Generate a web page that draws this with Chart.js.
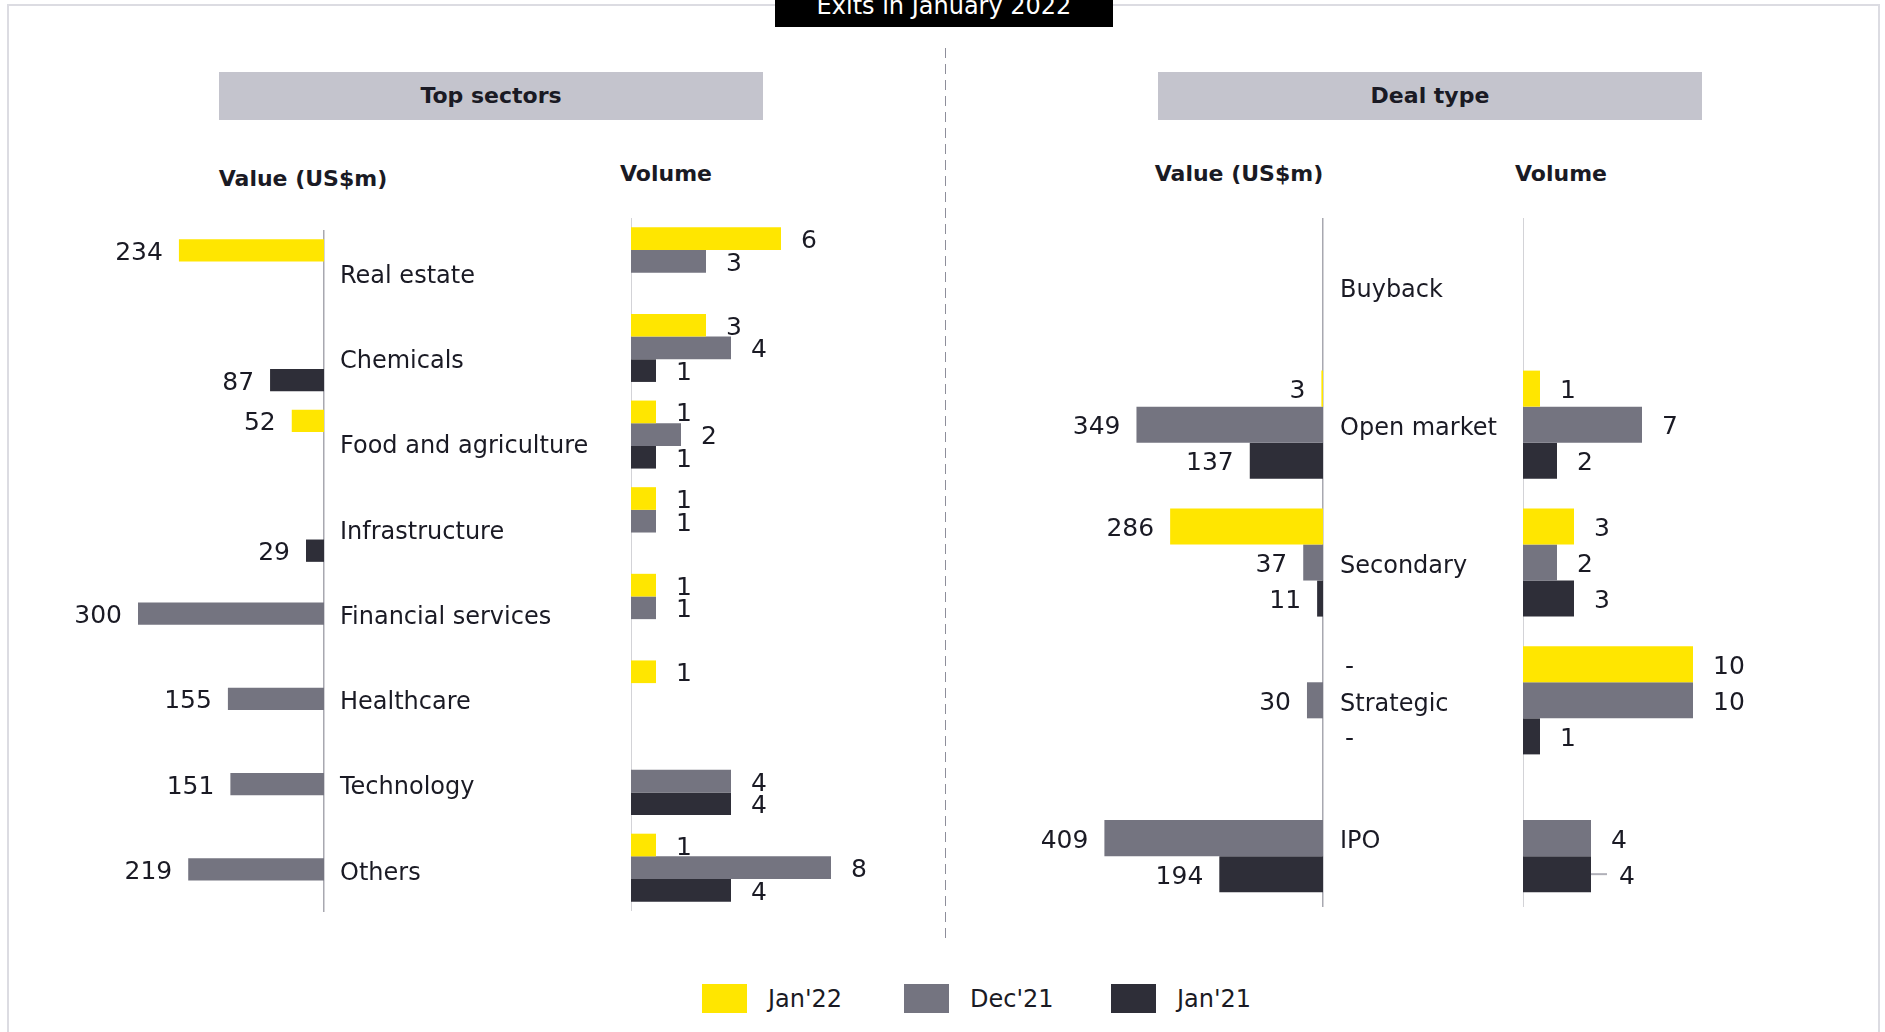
<!DOCTYPE html>
<html>
<head>
<meta charset="utf-8">
<title>Exits in January 2022</title>
<script src="https://cdn.jsdelivr.net/npm/chart.js@4/dist/chart.umd.min.js"></script>
<style>
  body { margin: 0; width: 1885px; height: 1032px; background: #fff; overflow: hidden; font-family: "DejaVu Sans", sans-serif; color: #1a1a24; position: relative; }
  .abs { position: absolute; }
  .frame { left: 7px; top: 4px; width: 1869px; height: 1100px; border: 2px solid #dcdce2; }
  .title { left: 775px; top: 0; width: 338px; height: 27px; background: #000; overflow: hidden; }
  .title span { position: absolute; left: 0; right: 0; top: -6px; text-align: center; color: #fff; font-size: 24px; line-height: 24px; white-space: nowrap; }
  .band { top: 72px; width: 544px; height: 48px; background: #c4c4cd; text-align: center; line-height: 48px; font-weight: bold; font-size: 22px; }
  .head { font-weight: bold; font-size: 22px; line-height: 22px; transform: translate(-50%, -50%); white-space: nowrap; }
  .divider { left: 945px; top: 48px; width: 1px; height: 892px; background: repeating-linear-gradient(to bottom, #8e8e9a 0 10px, transparent 10px 16px); }
  .box { position: absolute; }
  .key { top: 984px; width: 45px; height: 29px; }
  .keytxt { top: 987px; font-size: 24px; line-height: 24px; white-space: nowrap; }
</style>
</head>
<body>
<div class="abs frame"></div>
<div class="abs title"><span>Exits in January 2022</span></div>
<div class="abs divider"></div>

<div class="abs band" style="left:219px">Top sectors</div>
<div class="abs band" style="left:1158px">Deal type</div>

<div class="abs head" style="left:303px;top:179px">Value (US$m)</div>
<div class="abs head" style="left:666px;top:174px">Volume</div>
<div class="abs head" style="left:1239px;top:174px">Value (US$m)</div>
<div class="abs head" style="left:1561px;top:174px">Volume</div>

<div class="box" style="left:14px;top:230px;width:610px;height:682px"><canvas id="sectorValue"></canvas></div>
<div class="box" style="left:631px;top:218px;width:300px;height:693px"><canvas id="sectorVolume"></canvas></div>
<div class="box" style="left:1013px;top:218px;width:500px;height:689px"><canvas id="dealValue"></canvas></div>
<div class="box" style="left:1523px;top:218px;width:340px;height:689px"><canvas id="dealVolume"></canvas></div>

<div id="legend"></div>

<script>
// series names and colours
const seriesNames = ["Jan'22", "Dec'21", "Jan'21"];
const seriesColors = ['#ffe600', '#747480', '#2e2e38'];

// Top sectors
const sectorLabels = ['Real estate', 'Chemicals', 'Food and agriculture', 'Infrastructure',
    'Financial services', 'Healthcare', 'Technology', 'Others'];
const sectorValueJan22 = [234, null, 52, null, null, null, null, null];
const sectorValueDec21 = [null, null, null, null, 300, 155, 151, 219];
const sectorValueJan21 = [null, 87, null, 29, null, null, null, null];
const sectorVolumeJan22 = [6, 3, 1, 1, 1, 1, null, 1];
const sectorVolumeDec21 = [3, 4, 2, 1, 1, null, 4, 8];
const sectorVolumeJan21 = [null, 1, 1, null, null, null, 4, 4];

// Deal type (0 is shown as "-")
const dealLabels = ['Buyback', 'Open market', 'Secondary', 'Strategic', 'IPO'];
const dealValueJan22 = [null, 3, 286, 0, null];
const dealValueDec21 = [null, 349, 37, 30, 409];
const dealValueJan21 = [null, 137, 11, 0, 194];
const dealVolumeJan22 = [null, 1, 3, 10, null];
const dealVolumeDec21 = [null, 7, 2, 10, 4];
const dealVolumeJan21 = [null, 2, 3, 1, 4];

const textColor = '#1a1a24';
const axisColor = '#a8a8b0';

// draws the numbers at the end of each bar
const barLabels = {
    id: 'barLabels',
    afterDatasetsDraw(chart, args, opts) {
        const ctx = chart.ctx;
        ctx.save();
        ctx.font = '25px "DejaVu Sans"';
        ctx.fillStyle = textColor;
        ctx.textBaseline = 'middle';
        chart.data.datasets.forEach((ds, i) => {
            chart.getDatasetMeta(i).data.forEach((bar, j) => {
                const v = ds.data[j];
                if (v === null || v === undefined) return;
                const y = bar.y + 3;
                if (v === 0) {
                    ctx.textAlign = 'left';
                    ctx.fillText('-', chart.chartArea.right + 22, y);
                    return;
                }
                let x;
                if (opts.side === 'left') {
                    ctx.textAlign = 'right';
                    x = bar.x - 16;
                } else {
                    ctx.textAlign = 'left';
                    x = bar.x + 20;
                    if (opts.leader && opts.leader[0] === i && opts.leader[1] === j) {
                        ctx.strokeStyle = '#b0b0b8';
                        ctx.lineWidth = 2;
                        ctx.beginPath();
                        ctx.moveTo(bar.x, bar.y);
                        ctx.lineTo(bar.x + 16, bar.y);
                        ctx.stroke();
                        x = bar.x + 28;
                    }
                }
                ctx.fillText(String(v), x, y);
            });
        });
        ctx.restore();
    }
};

function makeDatasets(a, b, c) {
    return [a, b, c].map((data, i) => ({
        label: seriesNames[i],
        data: data,
        backgroundColor: seriesColors[i],
        borderWidth: 0,
        categoryPercentage: 0.785,
        barPercentage: 1
    }));
}

// value charts grow to the left, category names sit right of the axis
function valueChart(id, labels, data, max, labelWidth, padding) {
    new Chart(document.getElementById(id), {
        type: 'bar',
        data: { labels: labels, datasets: data },
        options: {
            indexAxis: 'y',
            responsive: true,
            maintainAspectRatio: false,
            animation: false,
            layout: { padding: 0 },
            scales: {
                x: { display: false, reverse: true, min: 0, max: max },
                y: {
                    position: 'right',
                    grid: { display: false, drawTicks: false },
                    border: { display: true, color: axisColor, width: 1.5 },
                    ticks: {
                        padding: padding,
                        labelOffset: 4,
                        color: textColor,
                        font: { family: 'DejaVu Sans', size: 24 }
                    },
                    afterFit: function(axis) {
                        axis.width = labelWidth;
                        axis.paddingTop = 0;
                        axis.paddingBottom = 0;
                    }
                }
            },
            plugins: {
                legend: { display: false },
                tooltip: { enabled: false },
                barLabels: { side: 'left' }
            }
        },
        plugins: [barLabels]
    });
}

function volumeChart(id, labels, data, max, leader) {
    new Chart(document.getElementById(id), {
        type: 'bar',
        data: { labels: labels, datasets: data },
        options: {
            indexAxis: 'y',
            responsive: true,
            maintainAspectRatio: false,
            animation: false,
            layout: { padding: 0 },
            scales: {
                x: { display: false, min: 0, max: max },
                y: {
                    position: 'left',
                    grid: { display: false, drawTicks: false },
                    border: { display: true, color: axisColor, width: 1.5 },
                    ticks: { display: false },
                    afterFit: function(axis) { axis.width = 0; }
                }
            },
            plugins: {
                legend: { display: false },
                tooltip: { enabled: false },
                barLabels: { side: 'right', leader: leader }
            }
        },
        plugins: [barLabels]
    });
}

valueChart('sectorValue', sectorLabels,
    makeDatasets(sectorValueJan22, sectorValueDec21, sectorValueJan21), 500, 300, 16);
volumeChart('sectorVolume', sectorLabels,
    makeDatasets(sectorVolumeJan22, sectorVolumeDec21, sectorVolumeJan21), 12);
valueChart('dealValue', dealLabels,
    makeDatasets(dealValueJan22, dealValueDec21, dealValueJan21), 580, 190, 17);
volumeChart('dealVolume', dealLabels,
    makeDatasets(dealVolumeJan22, dealVolumeDec21, dealVolumeJan21), 20, [2, 4]);

// legend
const legendX = [702, 904, 1111];
const legend = document.getElementById('legend');
seriesNames.forEach((name, i) => {
    const key = document.createElement('div');
    key.className = 'abs key';
    key.style.left = legendX[i] + 'px';
    key.style.background = seriesColors[i];
    legend.appendChild(key);
    const txt = document.createElement('div');
    txt.className = 'abs keytxt';
    txt.style.left = (legendX[i] + 66) + 'px';
    txt.textContent = name;
    legend.appendChild(txt);
});
</script>
</body>
</html>
